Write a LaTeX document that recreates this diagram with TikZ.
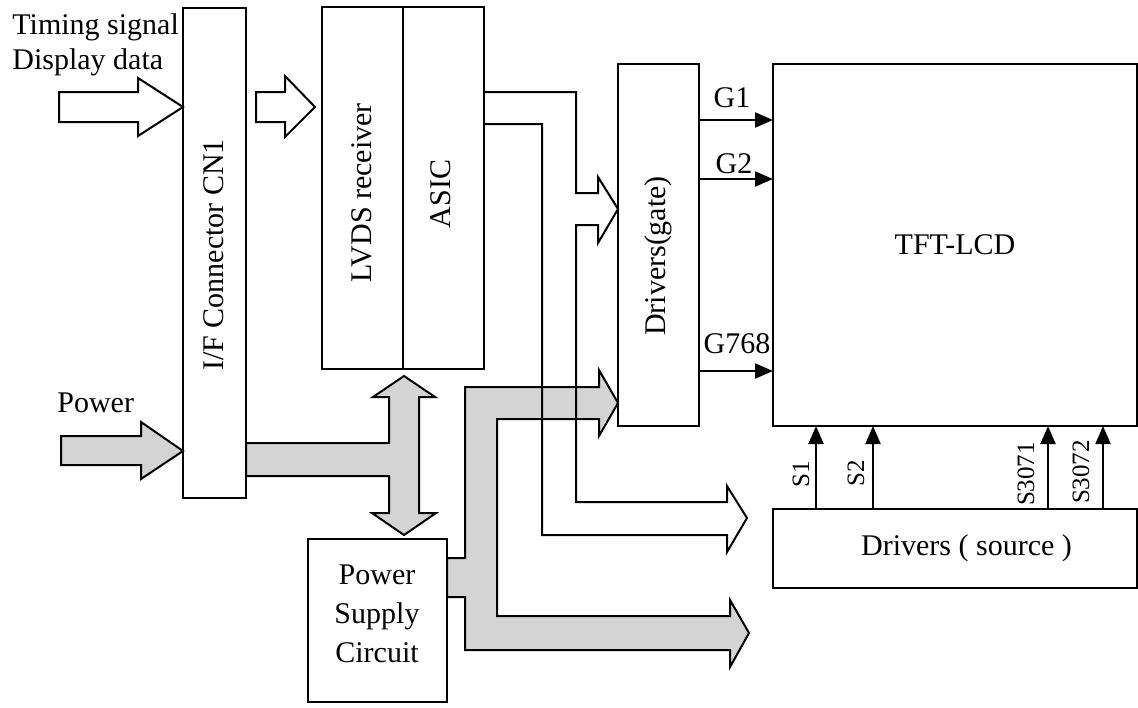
\documentclass[tikz,border=0pt]{standalone}
\usepackage{fontspec}
\setmainfont{Liberation Serif}
\usetikzlibrary{arrows.meta}
\definecolor{bandgray}{RGB}{212,212,212}

\begin{document}
\begin{tikzpicture}[x=0.5pt,y=0.5pt,yscale=-1,xscale=1,
  font=\fontsize{15}{17.5}\selectfont,
  box/.style={draw, line width=1pt, inner sep=0pt, outer sep=0pt},
  hollowarrow/.style={draw, line width=1pt, fill=white},
  powerarrow/.style={draw, line width=1pt, fill=bandgray},
  sig/.style={line width=1pt, -{Triangle[length=9pt,width=7.5pt]}},
  slabel/.style={rotate=90, anchor=base, font=\fontsize{12.5}{15}\selectfont}]
\useasboundingbox (0,0) rectangle (1138,707);

%Shape: Rectangle
\node[box, minimum width=31.5pt, minimum height=245pt] (cn1) at (214.5,253) {};
%Shape: Rectangle
\node[box, minimum width=40.5pt, minimum height=181pt] (lvds) at (362.5,188) {};
%Shape: Rectangle
\node[box, minimum width=40.5pt, minimum height=181pt] (asic) at (443.5,188) {};
%Shape: Rectangle
\node[box, minimum width=40.5pt, minimum height=181pt] (gate) at (658.5,245) {};
%Shape: Rectangle
\node[box, minimum width=182pt, minimum height=181pt] (lcd) at (955,245) {TFT-LCD};
%Shape: Rectangle
\node[box, minimum width=182pt, minimum height=39.5pt] (src) at (955,548.5) {};
%Shape: Rectangle
\node[box, minimum width=69.5pt, minimum height=81.5pt] (psu) at (377.5,620.5) {};

%Right Arrow
\draw[hollowarrow] (59,92) -- (138,92) -- (138,78) -- (cn1.west |- 0,107) -- (138,136) -- (138,122) -- (59,122) -- cycle;
%Right Arrow
\draw[hollowarrow] (256,92) -- (285,92) -- (285,76) -- (315,107) -- (285,137) -- (285,122) -- (256,122) -- cycle;
%Right Arrow
\draw[powerarrow] (61,436) -- (141,436) -- (141,422) -- (cn1.west |- 0,451) -- (141,479) -- (141,465) -- (61,465) -- cycle;
%Up-Down Arrow
\draw[powerarrow] (cn1.east |- 0,443) -- (389,443) -- (389,397) -- (373,397) -- (404,376) -- (435,397) -- (419,397) -- (419,513) -- (436,513) -- (404,535) -- (372,513) -- (389,513) -- (389,476) -- (cn1.east |- 0,476) -- cycle;
%Bent Arrow
\draw[powerarrow] (psu.east |- 0,558) -- (465,558) -- (465,387) -- (599,387) -- (599,370) -- (gate.west |- 0,403) -- (599,436) -- (599,419) -- (497,419) -- (497,616) -- (730,616) -- (730,600) -- (749,633) -- (730,667) -- (730,650) -- (465,650) -- (465,597) -- (psu.east |- 0,597) -- cycle;
%Bent Arrow
\draw[line width=1pt] (asic.east |- 0,92) -- (576,92) -- (576,193) -- (598,193) -- (598,177) -- (gate.west |- 0,209) -- (598,243) -- (598,225) -- (576,225) -- (576,502) -- (727,502) -- (727,486) -- (747,518) -- (727,552) -- (727,535) -- (542,535) -- (542,124) -- (asic.east |- 0,124);

%Straight Lines
\draw[sig] (gate.east |- 0,120) -- (lcd.west |- 0,120);
\draw[sig] (gate.east |- 0,179) -- (lcd.west |- 0,179);
\draw[sig] (gate.east |- 0,371) -- (lcd.west |- 0,371);
%Straight Lines
\draw[sig] (src.north -| 816,0) -- (lcd.south -| 816,0);
\draw[sig] (src.north -| 873,0) -- (lcd.south -| 873,0);
\draw[sig] (src.north -| 1048,0) -- (lcd.south -| 1048,0);
\draw[sig] (src.north -| 1103,0) -- (lcd.south -| 1103,0);

% Text Node
\node[anchor=north west, align=left, inner sep=0pt] (tsig) at (12,13) {Timing signal\\Display data};
% Text Node
\node[anchor=base west, inner sep=0pt] (pwr) at (57,412) {Power};
% Text Node
\node[rotate=90] (cn1txt) at (214,255) {I/F Connector CN1};
% Text Node
\node[rotate=90] (lvdstxt) at (362,193) {LVDS receiver};
% Text Node
\node[rotate=90] (asictxt) at (441,194) {ASIC};
% Text Node
\node[rotate=90] (gatetxt) at (658,256) {Drivers(gate)};
% Text Node
\node[anchor=base] (srctxt) at (966.5,555) {Drivers ( source )};
% Text Node
\node[align=center, font=\fontsize{15}{19.5}\selectfont] (psutxt) at (377,614) {Power\\Supply\\Circuit};
% Text Node
\node[anchor=base] (lg1) at (732,107) {G1};
\node[anchor=base] (lg2) at (734,173) {G2};
\node[anchor=base] (lg768) at (737,353) {G768};
% Text Node
\node[slabel] (ls1) at (809,474) {S1};
\node[slabel] (ls2) at (864,473) {S2};
\node[slabel] (ls3071) at (1034,474) {S3071};
\node[slabel] (ls3072) at (1089,472) {S3072};

\end{tikzpicture}
\end{document}
